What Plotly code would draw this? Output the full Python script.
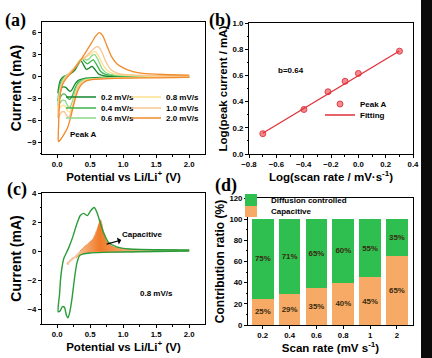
import plotly.graph_objects as go

W, H = 432, 358
SANS = "Liberation Sans, Arial, sans-serif"
SERIF = "Liberation Serif, Times New Roman, serif"

# ---------------- data ----------------
# (a) CV curves at different scan rates (potential V, current mA)
cv_names = ["0.2 mV/s", "0.4 mV/s", "0.6 mV/s", "0.8 mV/s", "1.0 mV/s", "2.0 mV/s"]

cv02_v = [2.0, 1.5, 1.0, 0.7, 0.5, 0.4, 0.32, 0.27, 0.23, 0.2, 0.17, 0.13, 0.09, 0.05, 0.02, 0.01,
          0.02, 0.04, 0.07, 0.12, 0.2, 0.27, 0.32, 0.36, 0.4, 0.44, 0.49, 0.53, 0.58, 0.63, 0.7, 0.8, 1.0, 1.5, 2.0]
cv02_i = [0.02, -0.02, -0.05, -0.1, -0.15, -0.25, -0.5, -1.0, -1.7, -2.0, -1.85, -1.45, -1.4, -1.7, -2.1, -2.2,
          -1.6, -0.7, -0.2, 0.1, 0.4, 0.9, 1.7, 2.2, 1.6, 1.0, 1.2, 1.4, 0.9, 0.35, 0.15, 0.08, 0.05, 0.03, 0.02]

cv04_v = [2.0, 1.5, 1.0, 0.7, 0.5, 0.4, 0.32, 0.27, 0.23, 0.19, 0.16, 0.12, 0.08, 0.04, 0.01,
          0.02, 0.04, 0.07, 0.12, 0.2, 0.28, 0.34, 0.38, 0.42, 0.46, 0.51, 0.55, 0.6, 0.66, 0.73, 0.85, 1.0, 1.5, 2.0]
cv04_i = [0.0, -0.05, -0.1, -0.15, -0.22, -0.35, -0.8, -1.6, -2.6, -3.1, -2.9, -2.4, -2.4, -2.9, -3.3,
          -2.5, -1.2, -0.4, 0.05, 0.5, 1.2, 2.1, 2.4, 2.0, 1.75, 2.1, 2.3, 1.6, 0.7, 0.3, 0.15, 0.1, 0.06, 0.05]

cv06_v = [2.0, 1.5, 1.0, 0.7, 0.5, 0.4, 0.32, 0.27, 0.23, 0.19, 0.16, 0.12, 0.08, 0.04, 0.01,
          0.02, 0.04, 0.08, 0.13, 0.2, 0.28, 0.35, 0.40, 0.44, 0.48, 0.53, 0.57, 0.62, 0.68, 0.75, 0.85, 1.0, 1.5, 2.0]
cv06_i = [-0.02, -0.07, -0.12, -0.2, -0.3, -0.45, -1.0, -2.1, -3.4, -4.2, -4.0, -3.3, -3.2, -3.6, -4.0,
          -3.0, -1.6, -0.5, 0.1, 0.6, 1.4, 2.3, 2.5, 2.3, 2.4, 2.9, 3.0, 2.3, 1.1, 0.5, 0.25, 0.15, 0.08, 0.06]

cv08_v = [2.0, 1.5, 1.0, 0.7, 0.5, 0.4, 0.32, 0.27, 0.23, 0.19, 0.16, 0.12, 0.08, 0.04, 0.01,
          0.02, 0.04, 0.08, 0.14, 0.21, 0.29, 0.36, 0.42, 0.48, 0.54, 0.58, 0.63, 0.7, 0.78, 0.88, 1.0, 1.5, 2.0]
cv08_i = [-0.03, -0.08, -0.15, -0.22, -0.35, -0.55, -1.2, -2.5, -3.9, -4.8, -4.7, -4.0, -3.9, -4.3, -4.7,
          -3.6, -2.0, -0.7, 0.1, 0.7, 1.5, 2.3, 2.6, 2.9, 3.3, 3.4, 2.8, 1.5, 0.7, 0.35, 0.22, 0.12, 0.1]

cv10_v = [2.0, 1.5, 1.0, 0.7, 0.5, 0.4, 0.32, 0.27, 0.22, 0.18, 0.15, 0.11, 0.07, 0.04, 0.01,
          0.02, 0.04, 0.08, 0.14, 0.22, 0.3, 0.38, 0.45, 0.52, 0.58, 0.62, 0.67, 0.74, 0.82, 0.92, 1.05, 1.5, 2.0]
cv10_i = [-0.05, -0.1, -0.18, -0.25, -0.4, -0.65, -1.4, -2.9, -4.6, -5.5, -5.4, -4.8, -4.8, -5.2, -5.6,
          -4.4, -2.5, -0.9, 0.05, 0.8, 1.6, 2.4, 2.9, 3.5, 4.0, 4.1, 3.5, 2.0, 0.9, 0.45, 0.28, 0.15, 0.12]

cv20_v = [2.0, 1.5, 1.0, 0.7, 0.5, 0.42, 0.35, 0.29, 0.24, 0.2, 0.16, 0.12, 0.08, 0.04, 0.02,
          0.015, 0.02, 0.03, 0.05, 0.09, 0.15, 0.22, 0.3, 0.38, 0.45, 0.52, 0.58, 0.64, 0.69, 0.75, 0.82,
          0.9, 1.0, 1.15, 1.3, 1.6, 2.0]
cv20_i = [-0.1, -0.15, -0.2, -0.3, -0.45, -0.7, -1.3, -2.5, -4.2, -5.7, -6.9, -7.6, -8.2, -8.7, -8.85,
          -8.5, -7.0, -4.5, -2.2, -0.9, -0.1, 0.6, 1.6, 2.6, 3.6, 4.6, 5.5, 6.0, 5.6, 4.3, 2.8,
          1.8, 1.2, 0.7, 0.45, 0.3, 0.22]

# (b) log(peak current) vs log(scan rate)
log_rate = [-0.699, -0.398, -0.222, -0.097, 0.0, 0.301]
log_peak = [0.155, 0.34, 0.475, 0.555, 0.615, 0.785]
fit_x = [-0.70, 0.30]
fit_y = [0.158, 0.786]

# (c) CV at 0.8 mV/s and capacitive contribution
c_cv_v = [2.0, 1.5, 1.0, 0.7, 0.5, 0.4, 0.34, 0.3, 0.27, 0.22, 0.19, 0.165, 0.14, 0.11, 0.08, 0.045, 0.015,
          0.02, 0.035, 0.05, 0.07, 0.1, 0.14, 0.18, 0.23, 0.3, 0.35, 0.4, 0.46, 0.51, 0.56, 0.6, 0.65, 0.7,
          0.78, 0.9, 1.1, 1.5, 2.0]
c_cv_i = [0.02, -0.02, -0.05, -0.08, -0.12, -0.18, -0.3, -0.8, -1.6, -3.4, -4.2, -4.58, -4.4, -3.85, -3.8, -4.1, -4.15,
          -3.6, -3.0, -2.0, -1.2, -0.5, -0.1, 0.3, 0.9, 1.9, 2.45, 2.6, 2.45, 2.8, 3.0, 2.7, 2.0, 1.3,
          0.6, 0.3, 0.15, 0.1, 0.08]
cap_v = [0.146, 0.25, 0.35, 0.45, 0.55, 0.58, 0.61, 0.64, 0.66, 0.68, 0.71, 0.75, 0.82, 0.9, 1.0, 1.2, 1.5, 2.0,
         2.0, 1.5, 1.0, 0.7, 0.55, 0.45, 0.35, 0.25, 0.17, 0.146]
cap_i = [-0.85, -0.4, 0.1, 0.5, 0.9, 1.2, 1.7, 2.1, 2.15, 1.8, 1.2, 0.7, 0.4, 0.25, 0.18, 0.12, 0.1, 0.08,
         0.02, -0.02, -0.05, -0.07, -0.08, -0.15, -0.24, -0.55, -0.9, -0.85]

# (d) contribution ratios
rate_labels = ["0.2", "0.4", "0.6", "0.8", "1", "2"]
capacitive_pct = [25, 29, 35, 40, 45, 65]
diffusion_pct = [75, 71, 65, 60, 55, 35]

# ---------------- styling ----------------
cv_colors = ["#16862c", "#3cb54a", "#8ad88a", "#fde08c", "#f7c491", "#f08a2a"]


def fx(p):
    return p / W


def fy(p):
    return 1 - p / H


tickfont = dict(family=SANS, size=7.8, color="black", weight="bold")


def axis(**kw):
    d = dict(showline=True, linecolor="black", linewidth=1, mirror=True,
             ticks="outside", ticklen=3, tickwidth=1, tickcolor="black",
             showgrid=False, zeroline=False, tickfont=tickfont, automargin=False)
    d.update(kw)
    return d


def xtitle(t):
    return dict(text=t, font=dict(family=SANS, size=11.5, color="black", weight="bold"), standoff=0)


def ytitle(t, s=14):
    return dict(text=t, font=dict(family=SANS, size=s, color="black", weight="bold"), standoff=2)


fig = go.Figure()

# (a)
cv_v = [cv02_v, cv04_v, cv06_v, cv08_v, cv10_v, cv20_v]
cv_i = [cv02_i, cv04_i, cv06_i, cv08_i, cv10_i, cv20_i]
for k in range(6):
    fig.add_trace(go.Scatter(x=cv_v[k], y=cv_i[k], mode="lines", name=cv_names[k],
                             line=dict(color=cv_colors[k], width=1.3, shape="spline", smoothing=0.6),
                             xaxis="x", yaxis="y", legend="legend" if k == 0 else "legend%d" % (k + 1)))

# (b)
fig.add_trace(go.Scatter(x=log_rate, y=log_peak, mode="markers", name="Peak A",
                         marker=dict(size=6, color="#f28a8f", line=dict(color="#e0404a", width=1)),
                         xaxis="x2", yaxis="y2", legend="legend7"))
fig.add_trace(go.Scatter(x=fit_x, y=fit_y, mode="lines", name="Fitting",
                         line=dict(color="#e0303a", width=1.3),
                         xaxis="x2", yaxis="y2", legend="legend8"))

# (c)
fig.add_trace(go.Scatter(x=cap_v, y=cap_i, mode="lines", fill="toself", showlegend=False,
                         line=dict(color="#f0a060", width=1, dash="dash"),
                         fillgradient=dict(type="horizontal",
                                           colorscale=[[0, "#fde3cc"], [0.27, "#f07a28"],
                                                       [0.45, "#f4a062"], [1, "#fde8d4"]]),
                         xaxis="x3", yaxis="y3"))
fig.add_trace(go.Scatter(x=c_cv_v, y=c_cv_i, mode="lines", showlegend=False,
                         line=dict(color="#2a9d3a", width=1.4, shape="spline", smoothing=0.6),
                         xaxis="x3", yaxis="y3"))

# (d)
barfont = dict(family=SANS, size=8, color="#3a2a10", weight="bold")
fig.add_trace(go.Bar(x=rate_labels, y=capacitive_pct, name="Capacitive",
                     marker=dict(color="#f6aa66", line=dict(width=0)),
                     texttemplate="%{y}%", textposition="inside", insidetextanchor="middle",
                     textangle=0, textfont=barfont, xaxis="x4", yaxis="y4", legend="legend10"))
fig.add_trace(go.Bar(x=rate_labels, y=diffusion_pct, name="Diffusion controlled",
                     marker=dict(color="#2fbf50", line=dict(width=0)),
                     texttemplate="%{y}%", textposition="inside", insidetextanchor="middle",
                     textangle=0, textfont=barfont, xaxis="x4", yaxis="y4", legend="legend9"))

# ---------------- legends ----------------
legfont = dict(family=SANS, size=8, color="black", weight="bold")


def leg(text_x, row_y):
    return dict(x=fx(text_x - 40), y=fy(row_y), xanchor="left", yanchor="middle",
                bgcolor="rgba(0,0,0,0)", borderwidth=0, font=legfont, itemwidth=30)


legends = {
    "legend": leg(101, 97), "legend2": leg(101, 108), "legend3": leg(101, 118),
    "legend4": leg(166, 97), "legend5": leg(166, 108), "legend6": leg(166, 118),
    "legend7": leg(360, 104), "legend8": leg(360, 115),
    "legend9": leg(271, 200), "legend10": leg(271, 211),
}

annfont = dict(family=SANS, size=8, color="black", weight="bold")
labfont = dict(family=SERIF, size=18, color="black", weight="bold")
annotations = [
    dict(text="(a)", x=fx(3), y=fy(20), xref="paper", yref="paper", xanchor="left", yanchor="middle",
         showarrow=False, font=labfont),
    dict(text="(b)", x=fx(207), y=fy(20), xref="paper", yref="paper", xanchor="left", yanchor="middle",
         showarrow=False, font=labfont),
    dict(text="(c)", x=fx(5), y=fy(189), xref="paper", yref="paper", xanchor="left", yanchor="middle",
         showarrow=False, font=labfont),
    dict(text="(d)", x=fx(213), y=fy(185), xref="paper", yref="paper", xanchor="left", yanchor="middle",
         showarrow=False, font=labfont),
    dict(text="Peak A", x=0.405, y=-7.95, xref="x", yref="y", showarrow=False, font=annfont),
    dict(text="b=0.64", x=-0.49, y=0.634, xref="x2", yref="y2", showarrow=False, font=annfont),
    dict(text="Capacitive", ax=1.3, ay=1.18, x=0.75, y=0.49, xref="x3", yref="y3", axref="x3", ayref="y3",
         showarrow=True, arrowhead=2, arrowside="start", arrowsize=1, arrowwidth=1.2, arrowcolor="black",
         font=annfont),
    dict(text="0.8 mV/s", x=1.5, y=-2.87, xref="x3", yref="y3", showarrow=False, font=annfont),
]

fig.update_layout(
    width=W, height=H, margin=dict(l=0, r=0, t=0, b=0),
    paper_bgcolor="white", plot_bgcolor="white",
    barmode="stack", bargap=0.19,
    xaxis=axis(domain=[fx(42), fx(205)], anchor="y", range=[-0.23, 2.24], tickvals=[0, 0.5, 1.0, 1.5, 2.0],
               tickformat=".1f", minor=dict(ticks="outside", ticklen=1.5, dtick=0.25, tickcolor="black"),
               title=xtitle("Potential vs Li/Li<sup>+</sup> (V)")),
    yaxis=axis(domain=[fy(154), fy(22)], anchor="x", range=[-10.55, 7.46], tickvals=[-9, -6, -3, 0, 3, 6],
               minor=dict(ticks="outside", ticklen=1.5, dtick=1.5, tickcolor="black"),
               title=ytitle("Current (mA)", 14)),
    xaxis2=axis(domain=[fx(249), fx(413)], anchor="y2", range=[-0.8, 0.4], dtick=0.2, tick0=0,
                tickformat=".1f", minor=dict(ticks="outside", ticklen=1.5, dtick=0.1, tickcolor="black"),
                title=xtitle("Log(scan rate / mV·s<sup>-1</sup>)")),
    yaxis2=axis(domain=[fy(154), fy(23)], anchor="x2", range=[0, 1.0], dtick=0.2, tickformat=".1f",
                minor=dict(ticks="outside", ticklen=1.5, dtick=0.1, tickcolor="black"),
                title=ytitle("Log(peak current / mA)", 11.5)),
    xaxis3=axis(domain=[fx(42), fx(205)], anchor="y3", range=[-0.23, 2.24], tickvals=[0, 0.5, 1.0, 1.5, 2.0],
                tickformat=".1f", minor=dict(ticks="outside", ticklen=1.5, dtick=0.25, tickcolor="black"),
                title=xtitle("Potential vs Li/Li<sup>+</sup> (V)")),
    yaxis3=axis(domain=[fy(324), fy(193)], anchor="x3", range=[-5, 4], tickvals=[-4, -2, 0, 2, 4],
                minor=dict(ticks="outside", ticklen=1.5, dtick=1, tickcolor="black"),
                title=ytitle("Current (mA)", 14)),
    xaxis4=axis(domain=[fx(248), fx(413)], anchor="y4", type="category", range=[-0.55, 5.6],
                title=xtitle("Scan rate (mV s<sup>-1</sup>)")),
    yaxis4=axis(domain=[fy(325), fy(198)], anchor="x4", range=[0, 120], dtick=20,
                minor=dict(ticks="outside", ticklen=1.5, dtick=10, tickcolor="black"),
                title=ytitle("Contribution ratio (%)", 12)),
    annotations=annotations,
    shapes=[dict(type="rect", xref="paper", yref="paper", x0=fx(421), x1=1, y0=0, y1=1,
                 fillcolor="#0b0b0b", line=dict(width=0), layer="above")],
    **legends,
)

fig.write_html("out.html", config={"displayModeBar": False},
               post_script="document.body.style.margin='0px';document.body.style.overflow='hidden';")
